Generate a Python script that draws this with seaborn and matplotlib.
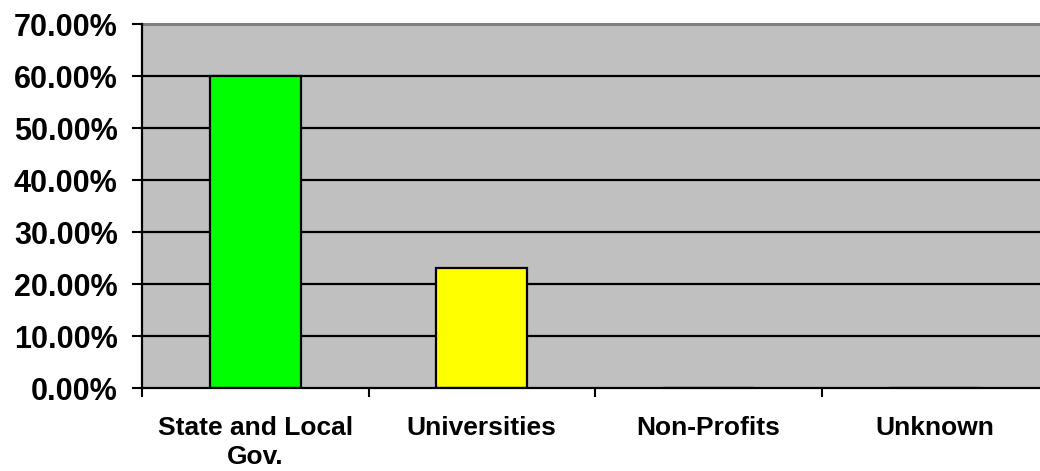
import matplotlib
matplotlib.use("Agg")
import matplotlib.pyplot as plt
from matplotlib.ticker import FuncFormatter, FixedLocator
import seaborn as sns

# data (percent)
categories = ["State and Local\nGov.", "Universities", "Non-Profits", "Unknown"]
shares = [60.0, 23.0, 0.0, 0.0]
bar_colors = ["#00FF00", "#FFFF00", "#FFFF00", "#00FFFF"]
y_ticks = [0, 10, 20, 30, 40, 50, 60, 70]

sns.set_style("white")
plt.rcParams["font.family"] = ["Liberation Sans", "DejaVu Sans"]

fig = plt.figure(figsize=(10.4, 4.71), dpi=100)
ax = fig.add_axes([142 / 1040, 83 / 471, 906 / 1040, 364 / 471])
ax.set_facecolor("#C0C0C0")

# horizontal gridlines (black, Excel style)
for y in y_ticks[1:-1]:
    ax.axhline(y, color="black", lw=1.6, zorder=1)

sns.barplot(x=categories, y=shares, hue=categories, palette=bar_colors,
            saturation=1, legend=False, width=0.4, edgecolor="black",
            linewidth=1.6, ax=ax, zorder=2)

ax.set_xlim(-0.5, 3.5)
ax.set_ylim(0, 70)

# y axis
ax.yaxis.set_major_locator(FixedLocator(y_ticks))
ax.yaxis.set_major_formatter(FuncFormatter(lambda v, _: f"{v:.2f}%"))
ax.tick_params(axis="y", direction="out", length=7.5, width=1.5, pad=10,
               left=True, colors="black", labelsize=22)

# x axis: tick marks between categories, labels centred under bars
ax.set_xticks([-0.5, 0.5, 1.5, 2.5, 3.5])
ax.set_xticklabels([])
ax.set_xticks(range(len(categories)), minor=True)
ax.set_xticklabels(categories, minor=True)
ax.tick_params(axis="x", which="major", direction="out", length=6.5, width=1.5,
               bottom=True, colors="black")
ax.tick_params(axis="x", which="minor", length=0, pad=20, labelsize=19)

for lab in ax.get_yticklabels() + ax.get_xticklabels(minor=True):
    lab.set_fontweight("bold")
    lab.set_color("black")
for lab in ax.get_xticklabels(minor=True):
    lab.set_linespacing(1.25)

ax.set_xlabel("")
ax.set_ylabel("")

for side in ["left", "bottom"]:
    ax.spines[side].set_color("black")
    ax.spines[side].set_linewidth(1.6)
    ax.spines[side].set_zorder(3)
ax.spines["top"].set_color("#808080")
ax.spines["top"].set_linewidth(2.2)
ax.spines["right"].set_visible(False)

fig.savefig("out.png", dpi=100)
